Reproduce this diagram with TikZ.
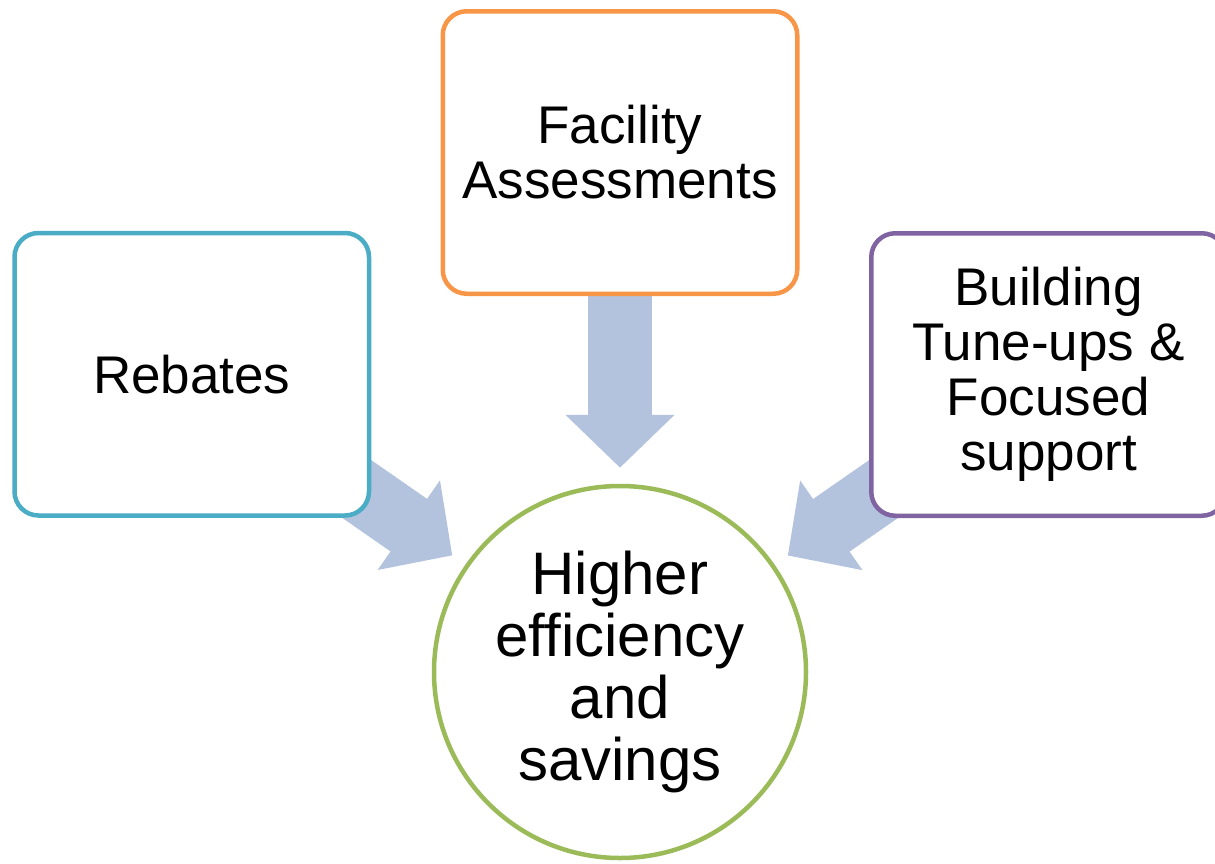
\documentclass[tikz,border=0pt]{standalone}
\usepackage{fontspec}
\setmainfont{Liberation Sans}[Ligatures=NoCommon]
\usepackage{xcolor}
\usetikzlibrary{arrows.meta,backgrounds}
\definecolor{rebcol}{HTML}{4BACC6}
\definecolor{faccol}{HTML}{F79646}
\definecolor{bldcol}{HTML}{8064A2}
\definecolor{hubcol}{HTML}{9BBB59}
\definecolor{feedcol}{HTML}{B3C3DE}
\begin{document}
\begin{tikzpicture}[x=0.5pt, y=-0.5pt,
    box/.style = {shape=rectangle, rounded corners=12pt,
      line width=2.25pt, fill=white, align=center,
      minimum width=177.25pt, minimum height=141.25pt,
      font=\fontsize{26.5}{27.5}\selectfont},
    hub/.style = {shape=circle, draw=hubcol, line width=2.25pt,
      fill=white, align=center, minimum size=186pt,
      font=\fontsize{30}{31}\selectfont},
    feed/.style = {draw=feedcol, line width=32pt, shorten >=8pt,
      -{Triangle[length=26.5pt, width=53pt]}}]
  \useasboundingbox (0,0) rectangle (1215,863);
  \node[box, draw=rebcol] (reb) at (191.75,374.25) {Rebates};
  \node[box, draw=faccol] (fac) at (620,152.5) {Facility\\Assessments};
  \node[box, draw=bldcol] (bld) at (1048.5,374.5)
    {Building\\Tune-ups \&\\Focused\\support};
  \node[hub] (goal) at (620,672) {Higher\\efficiency\\and\\savings};
  \begin{scope}[on background layer]
    \draw[feed] (reb.center) -- (goal);
    \draw[feed] (fac.center) -- (goal);
    \draw[feed] (bld.center) -- (goal);
  \end{scope}
\end{tikzpicture}
\end{document}
